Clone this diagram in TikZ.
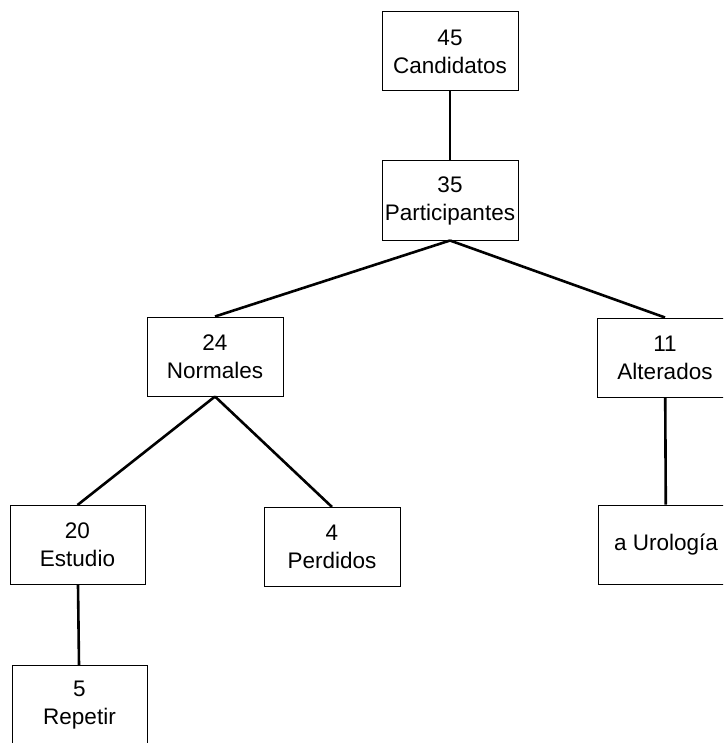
\documentclass[tikz,border=0pt]{standalone}
\usepackage{fontspec}
\setmainfont{Liberation Sans}
\usetikzlibrary{positioning}

\begin{document}
\begin{tikzpicture}[x=1pt, y=-1pt,
    caja/.style={shape=rectangle, draw=black, line width=1pt, minimum width=136pt, minimum height=79pt, align=center, inner sep=0pt, font=\fontsize{22.5}{28}\selectfont},
    rama/.style={line width=2.6pt}]
        \useasboundingbox (0,0) rectangle (723,743);
        \clip (0,0) rectangle (723,743);
        % primer nivel
        \node (cand) at (450,51.5) [caja] {45\\Candidatos};
        \node (part) at (450,200.5) [caja] {35\\Participantes};
        % segundo nivel
        \node (norm) at (215,356.5) [caja] {24\\Normales};
        \node (alt) at (665,357.5) [caja] {11\\Alterados};
        % tercer nivel
        \node (est) at (77.5,545) [caja, minimum width=135pt] {20\\Estudio};
        \node (perd) at (332,547) [caja] {4\\Perdidos};
        \node (uro) at (666,544.5) [caja] {a Urolog\'ia};
        \node (rep) at (79.5,705) [caja, minimum width=135pt] {5\\Repetir};
        \draw (cand) [rama] -- (part);
        \draw (part.south) [rama] -- (norm.north);
        \draw (part.south) [rama] -- (alt.north);
        \draw (norm.south) [rama] -- (est.north);
        \draw (norm.south) [rama] -- (perd.north);
        \draw (alt) [rama] -- (uro);
        \draw (est) [rama] -- (rep);
    \end{tikzpicture}
\end{document}
